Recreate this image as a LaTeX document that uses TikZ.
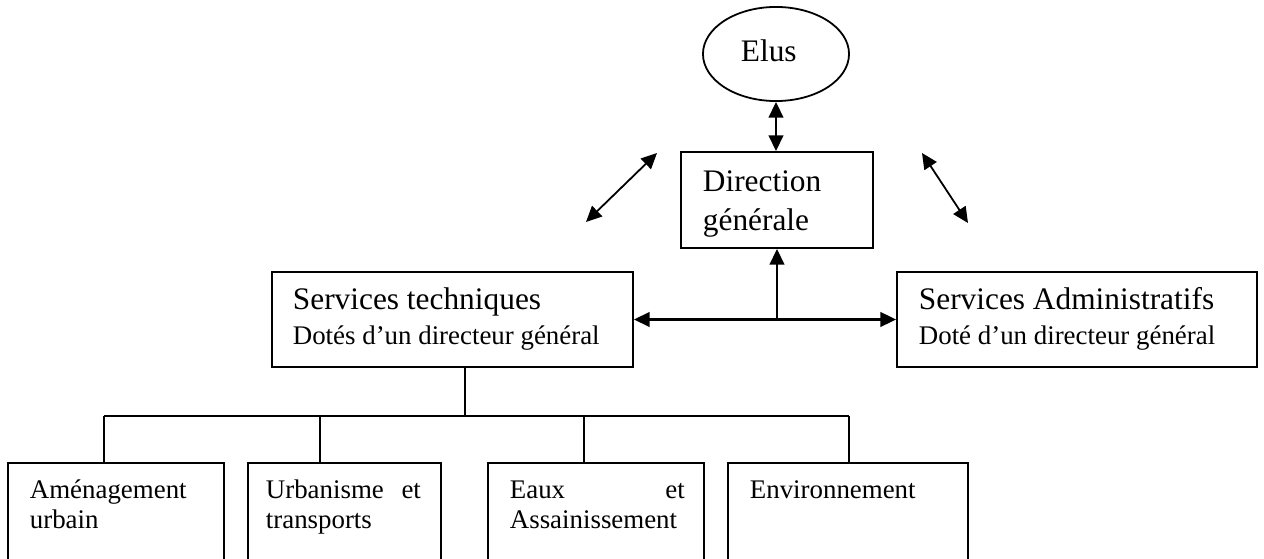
\documentclass[tikz,border=0pt]{standalone}
\usepackage{fontspec}
\setmainfont{Liberation Serif}
\usepackage{tikz}
\usetikzlibrary{arrows.meta,shapes.geometric}

\begin{document}
\begin{tikzpicture}[x=0.4464pt,y=-0.4464pt,line width=0.8pt,
    >={Triangle[length=7pt,width=6.5pt]},
    box/.style={draw,rectangle,inner sep=0pt},
    txt/.style={inner sep=0pt,anchor=base west,align=flush left},
    big/.style={font=\fontsize{14}{17}\selectfont},
    small/.style={font=\fontsize{12}{13}\selectfont},
    two/.style={font=\fontsize{12}{15.2}\selectfont},
    arr/.style={line width=1pt}]
  \clip (0,0) rectangle (1264,559);
  % top of the chart
  \node[draw,ellipse,inner sep=0pt,minimum width=65.2pt,minimum height=42pt] (elus) at (776,54) {};
  \node[txt,big] (elt) at (740,62) {Elus};
  \node[box,minimum width=85.7pt,minimum height=42.9pt] (dg) at (777,200) {};
  \node[txt,big,text width=80pt] (dgt) at (702,192) {Direction\\générale};
  \node[box,minimum width=161.2pt,minimum height=42.4pt] (st) at (452.5,319.5) {};
  \node[txt,two,text width=155pt] (stt) at (292,310) {{\fontsize{14}{15.2}\selectfont Services techniques}\\Dotés d’un directeur général};
  \node[box,minimum width=160.7pt,minimum height=42.4pt] (sa) at (1077,319.5) {};
  \node[txt,two,text width=155pt] (sat) at (918,310) {{\fontsize{14}{15.2}\selectfont Services Administratifs}\\Doté d’un directeur général};
  % the four services
  \node[box,minimum width=96.4pt,minimum height=61.2pt] (amen) at (116,531.5) {};
  \node[txt,small,text width=76pt] (amt) at (29,499) {Aménagement\\urbain};
  \node[box,minimum width=86.2pt,minimum height=61.2pt] (urba) at (344.5,531.5) {};
  \node[txt,small,text width=69.2pt] (urt) at (265,499) {Urbanisme \hfill et\\transports};
  \node[box,minimum width=96.4pt,minimum height=61.2pt] (eaux) at (596,531.5) {};
  \node[txt,small,text width=78.1pt] (eat) at (509,499) {Eaux \hfill et\\Assainissement};
  \node[box,minimum width=107.1pt,minimum height=61.2pt] (envi) at (848,531.5) {};
  \node[txt,small,text width=90pt] (ent) at (749,499) {Environnement};
  % links
  \draw[arr,<->] (elus.south) -- (elus.south |- dg.north);
  \coordinate (jn) at (dg.south |- st.east);
  \draw[arr,<->] (st.east) -- (sa.west);
  \draw[arr,->] (jn) -- (dg.south);
  \coordinate (la) at (586,222);
  \coordinate (lb) at (657,153);
  \coordinate (ra) at (922,153);
  \coordinate (rb) at (968,223);
  \draw[<->] (la) -- (lb);
  \draw[<->] (ra) -- (rb);
  \coordinate (bus) at (465,416);
  \coordinate (d1) at (104,416);
  \coordinate (d2) at (320,416);
  \coordinate (d3) at (584,416);
  \coordinate (d4) at (849,416);
  \draw (st.south -| bus) -- (bus);
  \draw (d1) -- (d4);
  \draw (d1) -- (d1 |- amen.north);
  \draw (d2) -- (d2 |- urba.north);
  \draw (d3) -- (d3 |- eaux.north);
  \draw (d4) -- (d4 |- envi.north);
\end{tikzpicture}
\end{document}
